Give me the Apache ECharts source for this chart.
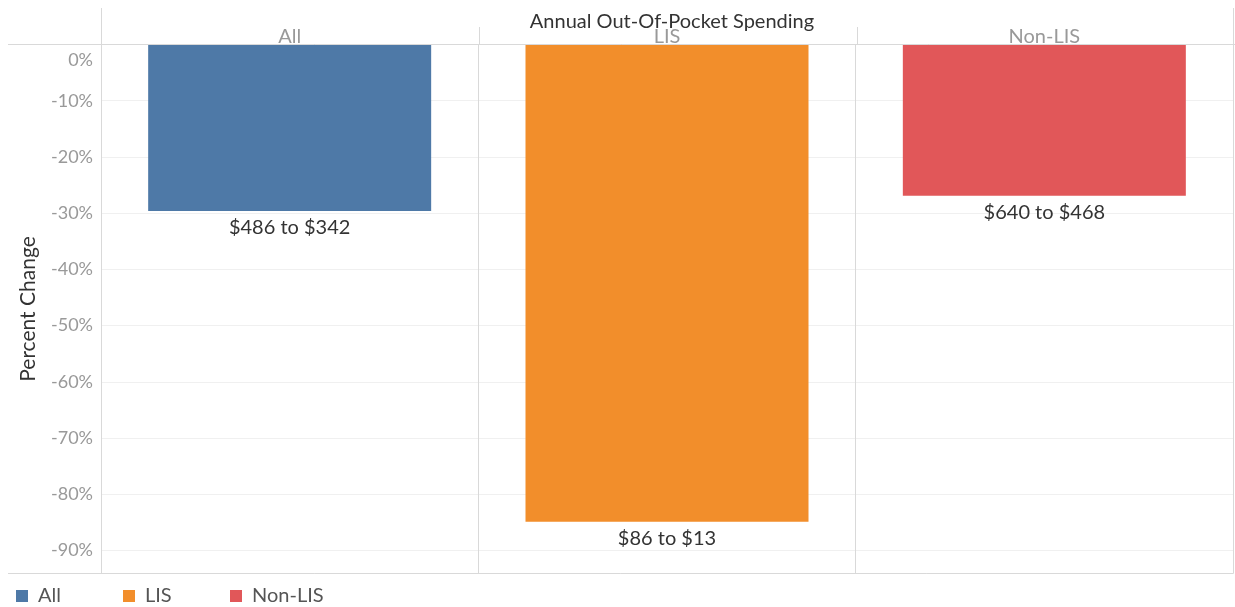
<!DOCTYPE html>
<html><head><meta charset="utf-8">
<script src="https://cdn.jsdelivr.net/npm/echarts@6/dist/echarts.min.js"></script>
<style>html,body{margin:0;padding:0;background:#fff}#c{width:1235px;height:607px}</style>
</head><body><div id="c"></div>
<script>
const categories = ['All', 'LIS', 'Non-LIS'];
const pctChange = [-29.6, -84.9, -26.9];
const spendLabels = ['$486 to $342', '$86 to $13', '$640 to $468'];
const colors = ['#4e79a7', '#f28e2b', '#e15759'];
const yMin = -94.1, yMax = 0;

const chart = echarts.init(document.getElementById('c'));
const font = 'Lato, "Open Sans", sans-serif';
const series = categories.map((name, i) => ({
  name: name,
  type: 'bar',
  stack: 's',
  barWidth: '75%',
  itemStyle: { color: colors[i] },
  data: categories.map((c, j) => j === i ? pctChange[i] : '-'),
  label: {
    show: true, position: 'bottom', distance: 7,
    formatter: () => spendLabels[i],
    color: '#333', fontSize: 20, fontFamily: font
  }
}));
const legendLefts = [11, 118, 225];
const legends = categories.map((name, i) => ({
  left: legendLefts[i], top: 581, itemWidth: 12, itemHeight: 12, icon: 'rect',
  selectedMode: false,
  textStyle: { color: '#555', fontSize: 20, fontFamily: font, padding: [0, 0, 0, 5] },
  data: [name]
}));
const L = '#d9d9d9';
chart.setOption({
  animation: false,
  textStyle: { fontFamily: font },
  title: {
    text: 'Annual Out-Of-Pocket Spending', left: 667, top: 7, textAlign: 'center',
    textStyle: { fontSize: 20, fontWeight: 'normal', color: '#333', fontFamily: font }
  },
  grid: { left: 101, right: 2, top: 44.5, bottom: 33.5 },
  xAxis: {
    type: 'category', data: categories, position: 'top',
    axisLine: { show: false }, axisTick: { show: false },
    axisLabel: { color: '#999', fontSize: 20, margin: -2, fontFamily: font },
    splitLine: { show: true, lineStyle: { color: L, width: 1 } }
  },
  yAxis: {
    type: 'value', min: yMin, max: yMax, splitNumber: 9,
    name: 'Percent Change', nameLocation: 'middle', nameGap: 62,
    nameTextStyle: { color: '#333', fontSize: 21, fontFamily: font },
    axisLine: { show: false }, axisTick: { show: false },
    axisLabel: {
      showMinLabel: false, color: '#999', fontSize: 18, margin: 8, fontFamily: font,
      formatter: v => v === 0 ? '{z|0%}' : v + '%',
      rich: { z: { padding: [31, 0, 0, 0], color: '#999', fontSize: 18, fontFamily: font } }
    },
    splitLine: { show: true, lineStyle: { color: '#f0f0f0', width: 1 } }
  },
  legend: legends,
  graphic: [
    { type: 'line', shape: { x1: 8, y1: 44.5, x2: 1235, y2: 44.5 }, style: { stroke: L, lineWidth: 1 }, z: 100 },
    { type: 'line', shape: { x1: 8, y1: 573.5, x2: 1233, y2: 573.5 }, style: { stroke: L, lineWidth: 1 }, z: 100 },
    { type: 'line', shape: { x1: 101.5, y1: 8, x2: 101.5, y2: 573.5 }, style: { stroke: L, lineWidth: 1 }, z: 100 },
    { type: 'line', shape: { x1: 1233.5, y1: 8, x2: 1233.5, y2: 573.5 }, style: { stroke: L, lineWidth: 1 }, z: 100 },
    { type: 'line', shape: { x1: 479.5, y1: 27, x2: 479.5, y2: 44.5 }, style: { stroke: L, lineWidth: 1 }, z: 100 },
    { type: 'line', shape: { x1: 857.5, y1: 27, x2: 857.5, y2: 44.5 }, style: { stroke: L, lineWidth: 1 }, z: 100 }
  ],
  series: series
});
</script></body></html>
